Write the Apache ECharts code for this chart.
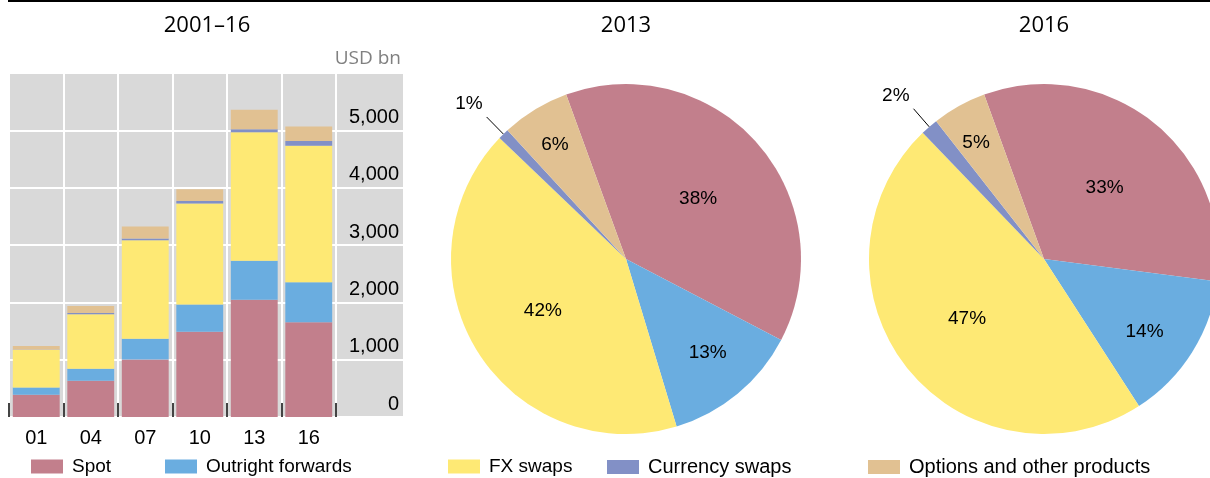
<!DOCTYPE html>
<html>
<head>
<meta charset="utf-8">
<script src="https://cdn.jsdelivr.net/npm/echarts@6/dist/echarts.min.js"></script>
<style>
  html, body { margin: 0; padding: 0; background: #fff; }
  #chart { width: 1210px; height: 478px; }
</style>
</head>
<body>
<div id="chart"></div>
<script>
// FX turnover by instrument, USD bn
const years = ["01", "04", "07", "10", "13", "16"];
const spot = [386, 631, 1005, 1489, 2047, 1652];
const outright = [130, 209, 362, 475, 679, 700];
const fxSwaps = [656, 954, 1714, 1759, 2240, 2378];
const currSwaps = [7, 21, 31, 43, 54, 82];
const optionsOther = [60, 119, 212, 207, 337, 254];
const yTicks = [0, 1000, 2000, 3000, 4000, 5000, 6000];

const names = ["Spot", "Outright forwards", "FX swaps", "Currency swaps", "Options and other products"];
const colors = ["#c27f8c", "#6aade0", "#fee974", "#8290c6", "#e1c192"];
const seriesData = [spot, outright, fxSwaps, currSwaps, optionsOther];

// label nudges for the pie slices, per instrument
const nudge = [[4, -1], [24, 24], [-6, 4], [1, -13], [-24, -37]];

const font = "Liberation Sans, Arial, sans-serif";
const titleFont = { fontFamily: "Open Sans", fontSize: 22, fontWeight: "normal", color: "#000" };

function pieData(idx) {
  return names.map(function (n, i) {
    let item = { name: n, value: seriesData[i][idx], itemStyle: { color: colors[i] } };
    if (i === 3) {
      item.label = { position: "outside" };
      item.labelLine = { show: true, length: 24, length2: 0, lineStyle: { color: "#000", width: 1 } };
    }
    return item;
  });
}

function pieSeries(idx, cx) {
  let total = 0;
  seriesData.forEach(function (s) { total += s[idx]; });
  return {
    type: "pie",
    center: [cx, 259],
    radius: 175,
    startAngle: 110,
    clockwise: true,
    silent: true,
    animation: false,
    data: pieData(idx),
    label: {
      position: "inside",
      color: "#000",
      fontSize: 19,
      fontFamily: font,
      formatter: function (p) {
        return Math.round(p.value / total * 100) + "%";
      }
    },
    labelLine: { show: false },
    labelLayout: function (p) {
      let n = nudge[p.dataIndex];
      return { dx: n[0], dy: n[1] };
    },
    itemStyle: { borderWidth: 0 }
  };
}

let chartDom = document.getElementById("chart");
let myChart = echarts.init(chartDom);

let legendLeft = [31, 165, 448, 607, 868];
let legendSize = [19, 19, 19, 20, 20];

let option = {
  animation: false,
  textStyle: { fontFamily: font },
  title: [
    { text: "2001–16", left: 207, top: 15, padding: 0, textAlign: "center", textStyle: titleFont },
    { text: "2013", left: 626, top: 15, padding: 0, textAlign: "center", textStyle: titleFont },
    { text: "2016", left: 1044, top: 15, padding: 0, textAlign: "center", textStyle: titleFont },
    { text: "USD bn", left: 401, top: 49, padding: 0, textAlign: "right",
      textStyle: { fontFamily: "Open Sans", fontSize: 19, fontWeight: "normal", color: "#808080" } }
  ],
  legend: names.map(function (n, i) {
    return {
      data: [n],
      left: legendLeft[i],
      top: 457,
      padding: 0,
      icon: "rect",
      itemWidth: 32,
      itemHeight: 14,
      selectedMode: false,
      textStyle: { fontSize: legendSize[i], color: "#000", fontFamily: font, padding: [0, 0, 0, 4] }
    };
  }),
  graphic: [
    { type: "line", shape: { x1: 8, y1: 1, x2: 1210, y2: 1 }, style: { stroke: "#000", lineWidth: 2 } }
  ],
  grid: [
    { left: 9, top: 73, width: 394, height: 344, show: true, backgroundColor: "#d9d9d9", borderWidth: 0 },
    { left: 9, top: 73, width: 327, height: 344, show: false }
  ],
  xAxis: [
    { gridIndex: 0, type: "value", show: false, min: 0, max: 1 },
    {
      gridIndex: 1,
      type: "category",
      data: years,
      axisLine: { show: false },
      axisTick: { show: true, inside: true, length: 14, lineStyle: { color: "#444", width: 2 } },
      axisLabel: { fontSize: 20, color: "#000", margin: 11, fontFamily: font },
      splitLine: { show: true, lineStyle: { color: "#fff", width: 2 } }
    }
  ],
  yAxis: [
    {
      gridIndex: 0,
      type: "value",
      position: "right",
      min: yTicks[0],
      max: yTicks[yTicks.length - 1],
      interval: 1000,
      axisLine: { show: false },
      axisTick: { show: false },
      axisLabel: {
        inside: true,
        margin: 4,
        verticalAlign: "bottom",
        padding: [0, 0, 3, 0],
        fontSize: 20,
        color: "#000",
        fontFamily: font,
        showMaxLabel: false
      },
      splitLine: { show: true, lineStyle: { color: "#fff", width: 2 } }
    },
    { gridIndex: 1, type: "value", show: false, min: 0, max: 6000 }
  ],
  series: names.map(function (n, i) {
    return {
      name: n,
      type: "bar",
      xAxisIndex: 1,
      yAxisIndex: 1,
      stack: "total",
      barCategoryGap: "14%",
      data: seriesData[i],
      itemStyle: { color: colors[i] },
      silent: true
    };
  }).concat([pieSeries(4, 626), pieSeries(5, 1044)])
};

myChart.setOption(option, true);
</script>
</body>
</html>
